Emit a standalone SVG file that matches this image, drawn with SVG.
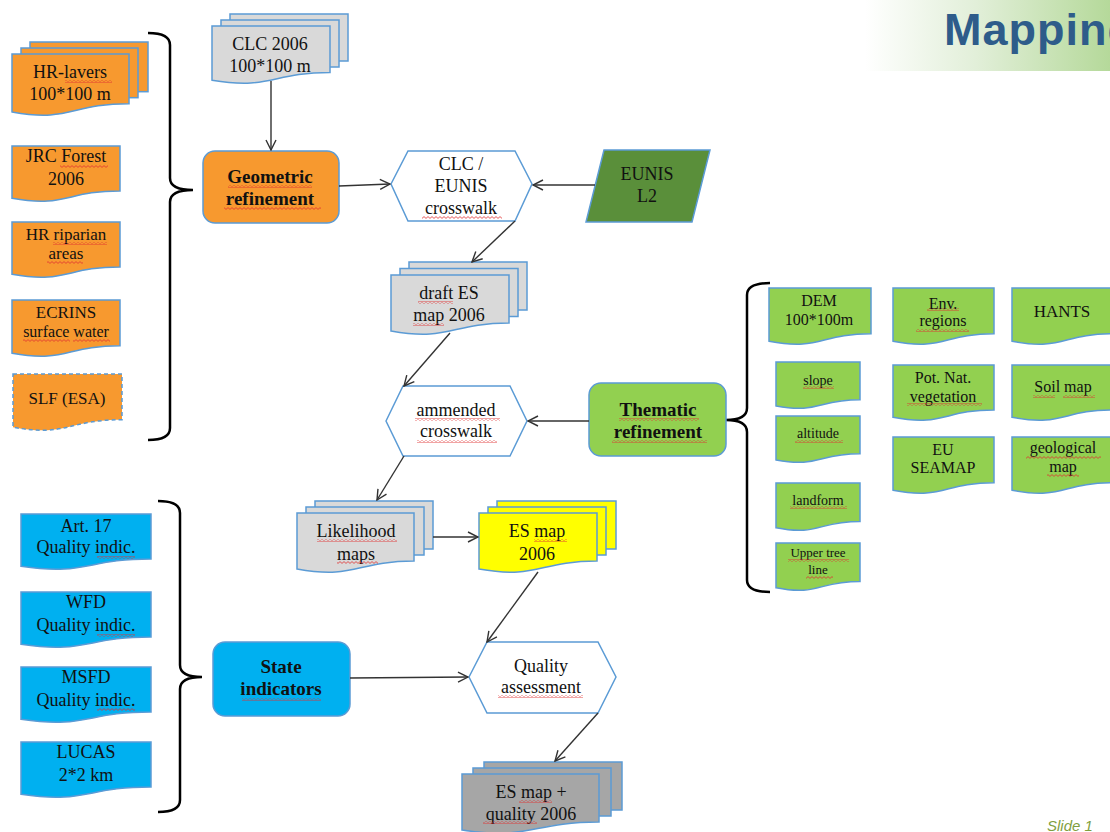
<svg xmlns="http://www.w3.org/2000/svg" width="1110" height="832" viewBox="0 0 1110 832">
<defs>
<linearGradient id="tg" x1="0" y1="0" x2="1" y2="0">
<stop offset="0" stop-color="#ffffff"/>
<stop offset="0.45" stop-color="#E2EFD9"/>
<stop offset="1" stop-color="#B5D99A"/>
</linearGradient>
<pattern id="sq" width="4" height="3" patternUnits="userSpaceOnUse">
<path d="M0,0.6 L2,2.4 L4,0.6" fill="none" stroke="#E03030" stroke-width="0.8"/>
</pattern>
<marker id="ah" viewBox="0 0 12 12" markerWidth="12" markerHeight="12" refX="11" refY="6" orient="auto" markerUnits="userSpaceOnUse">
<path d="M1,1 L11,6 L1,11" fill="none" stroke="#333" stroke-width="1.4"/>
</marker>
</defs>
<style>
.t{font-family:"Liberation Serif","Times New Roman",serif;font-size:18px;text-anchor:middle;fill:#111}
.s17{font-size:17px}
.s16{font-size:16px}
.s14{font-size:14px}
.s13{font-size:13px}
.b{font-weight:bold;font-size:19px}
.d{stroke:#5B9BD5;stroke-width:1.5}
.or{fill:#F7992F}
.gr{fill:#D9D9D9}
.dg{fill:#A6A6A6}
.ye{fill:#FFFF00}
.lg{fill:#92D050}
.bl{fill:#00B0F0}
.hex{fill:#fff;stroke:#5B9BD5;stroke-width:1.5}
.br{fill:none;stroke:#000;stroke-width:2.5}
.c{fill:none;stroke:#333;stroke-width:1.4;marker-end:url(#ah)}
.sq{fill:url(#sq)}
</style>

<g id="title">
<rect x="865" y="0" width="245" height="71" fill="url(#tg)"/>
<text x="944" y="45" font-family="'Liberation Sans',Arial,sans-serif" font-size="45" font-weight="bold" letter-spacing="1" fill="#2E5C8A">Mapping</text>
</g>

<!-- Orange inputs -->
<g id="hr-layers">
<rect class="or d" x="30" y="42" width="118" height="49.7"/>
<rect class="or d" x="21" y="48" width="117" height="49.7"/>
<path class="or d" d="M12,54 H129 V103.7 C70.5,103.7 70.5,122.6 12,111.9 Z"/>
<text class="t" x="70" y="78">HR-lavers</text>
<text class="t" x="70" y="100">100*100 m</text>
<rect class="sq" x="65" y="80" width="47" height="3"/>
</g>
<g id="jrc-forest">
<path class="or d" d="M12,146 H120 V190.9 C66,190.9 66,208 12,198.3 Z"/>
<text class="t" x="66" y="162">JRC Forest</text>
<text class="t" x="66" y="185">2006</text>
<rect class="sq" x="60" y="165" width="48" height="3"/>
</g>
<g id="hr-riparian">
<path class="or d" d="M12,222 H120 V266.9 C66,266.9 66,284 12,274.3 Z"/>
<text class="t s17" x="66" y="240">HR riparian</text>
<text class="t s17" x="66" y="259">areas</text>
<rect class="sq" x="53" y="242" width="54" height="3"/>
<rect class="sq" x="47" y="261" width="36" height="3"/>
</g>
<g id="ecrins">
<path class="or d" d="M12,300 H120 V345.7 C66,345.7 66,363.1 12,353.2 Z"/>
<text class="t s17" x="66" y="318">ECRINS</text>
<text class="t s16" x="66" y="337">surface water</text>
<rect class="sq" x="23" y="339" width="47" height="3"/>
<rect class="sq" x="73" y="339" width="37" height="3"/>
</g>
<g id="slf">
<path class="or d" stroke-dasharray="4,3" d="M13,374 H122 V419.7 C67.5,419.7 67.5,437.1 13,427.2 Z"/>
<text class="t s17" x="67" y="404">SLF (ESA)</text>
</g>
<g id="bracket-left">
<path class="br" d="M148,33 Q170,33 170,45 V178 Q170,190 193,190 Q170,190 170,202 V428 Q170,440 148,440"/>
</g>

<!-- Blue inputs -->
<g id="art17">
<path class="bl d" d="M21,514 H151 V558.9 C86,558.9 86,576 21,566.3 Z"/>
<text class="t" x="86" y="532">Art. 17</text>
<text class="t" x="86" y="553">Quality  indic.</text>
<rect class="sq" x="97" y="556" width="38" height="3"/>
</g>
<g id="wfd">
<path class="bl d" d="M21,592 H151 V636.9 C86,636.9 86,654 21,644.3 Z"/>
<text class="t" x="86" y="608">WFD</text>
<text class="t" x="86" y="631">Quality  indic.</text>
<rect class="sq" x="97" y="634" width="38" height="3"/>
</g>
<g id="msfd">
<path class="bl d" d="M21,667 H151 V711.9 C86,711.9 86,729 21,719.3 Z"/>
<text class="t" x="86" y="683">MSFD</text>
<text class="t" x="86" y="706">Quality  indic.</text>
<rect class="sq" x="97" y="708" width="38" height="3"/>
</g>
<g id="lucas">
<path class="bl d" d="M21,742 H151 V786.9 C86,786.9 86,804 21,794.3 Z"/>
<text class="t" x="86" y="758">LUCAS</text>
<text class="t" x="86" y="781">2*2 km</text>
</g>
<g id="bracket-blue">
<path class="br" d="M158,501 Q180,501 180,513 V665 Q180,677 202,677 Q180,677 180,689 V800 Q180,812 158,812"/>
</g>

<!-- Green inputs -->
<g id="dem">
<path class="lg d" d="M769,288 H871 V333.7 C820,333.7 820,351.1 769,341.2 Z"/>
<text class="t s16" x="819" y="306">DEM</text>
<text class="t s16" x="819" y="325">100*100m</text>
</g>
<g id="env-regions">
<path class="lg d" d="M893,288 H994 V333.7 C943.5,333.7 943.5,351.1 893,341.2 Z"/>
<text class="t s16" x="943" y="309">Env.</text>
<text class="t s16" x="943" y="326">regions</text>
<rect class="sq" x="927" y="308" width="32" height="3"/>
<rect class="sq" x="916" y="329" width="53" height="3"/>
</g>
<g id="hants">
<path class="lg d" d="M1012,288 H1113 V333.7 C1062.5,333.7 1062.5,351.1 1012,341.2 Z"/>
<text class="t s17" x="1062" y="317">HANTS</text>
</g>
<g id="slope">
<path class="lg d" d="M776,362 H860 V399.7 C818,399.7 818,414 776,405.9 Z"/>
<text class="t s14" x="818" y="385">slope</text>
<rect class="sq" x="803" y="386" width="31" height="3"/>
</g>
<g id="altitude">
<path class="lg d" d="M776,416 H860 V453.7 C818,453.7 818,468 776,459.9 Z"/>
<text class="t s14" x="818" y="438">altitude</text>
<rect class="sq" x="795" y="440" width="48" height="3"/>
</g>
<g id="landform">
<path class="lg d" d="M776,483 H860 V521.5 C818,521.5 818,536.1 776,527.8 Z"/>
<text class="t s14" x="818" y="505">landform</text>
<rect class="sq" x="790" y="506" width="57" height="3"/>
</g>
<g id="upper-tree-line">
<path class="lg d" d="M776,543 H860 V581.5 C818,581.5 818,596.1 776,587.8 Z"/>
<text class="t s13" x="818" y="557">Upper tree</text>
<text class="t s13" x="818" y="574">line</text>
<rect class="sq" x="788" y="559" width="61" height="3"/>
<rect class="sq" x="806" y="576" width="27" height="3"/>
</g>
<g id="pot-nat-veg">
<path class="lg d" d="M893,365 H994 V409.9 C943.5,409.9 943.5,427 893,417.3 Z"/>
<text class="t s16" x="943" y="383">Pot. Nat.</text>
<text class="t s16" x="943" y="402">vegetation</text>
<rect class="sq" x="907" y="403" width="75" height="3"/>
</g>
<g id="soil-map">
<path class="lg d" d="M1012,365 H1113 V409.9 C1062.5,409.9 1062.5,427 1012,417.3 Z"/>
<text class="t s16" x="1063" y="392">Soil map</text>
<rect class="sq" x="1033" y="395" width="22" height="3"/>
<rect class="sq" x="1063" y="395" width="32" height="3"/>
</g>
<g id="eu-seamap">
<path class="lg d" d="M893,437 H994 V482.7 C943.5,482.7 943.5,500.1 893,490.2 Z"/>
<text class="t s16" x="943" y="455">EU</text>
<text class="t s16" x="943" y="473">SEAMAP</text>
</g>
<g id="geological-map">
<path class="lg d" d="M1012,437 H1113 V482.7 C1062.5,482.7 1062.5,500.1 1012,490.2 Z"/>
<text class="t s16" x="1063" y="453">geological</text>
<text class="t s16" x="1063" y="472">map</text>
<rect class="sq" x="1026" y="456" width="75" height="3"/>
<rect class="sq" x="1047" y="474" width="32" height="3"/>
</g>
<g id="bracket-green">
<path class="br" d="M770,283 Q747,283 747,295 V408 Q747,420 726,420 Q747,420 747,432 V580 Q747,592 770,592"/>
</g>

<!-- Main flow -->
<g id="clc2006">
<rect class="gr d" x="230" y="14" width="118" height="47"/>
<rect class="gr d" x="221" y="20" width="118" height="47"/>
<path class="gr d" d="M212,26 H330 V72.5 C271,72.5 271,90.2 212,80.2 Z"/>
<text class="t" x="270" y="50">CLC  2006</text>
<text class="t" x="270" y="72">100*100 m</text>
</g>
<g id="geometric">
<rect class="or d" x="203" y="151" width="136" height="72" rx="12"/>
<text class="t b" x="270" y="183">Geometric</text>
<text class="t b" x="270" y="205">refinement</text>
<rect class="sq" x="228" y="185" width="84" height="3"/>
<rect class="sq" x="224" y="207" width="97" height="3"/>
</g>
<g id="clc-eunis">
<polygon class="hex" points="391,184 408,151 515,151 532,184 515,221 408,221"/>
<text class="t" x="461" y="170">CLC  /</text>
<text class="t" x="461" y="192">EUNIS</text>
<text class="t" x="461" y="214">crosswalk</text>
<rect class="sq" x="422" y="216" width="80" height="3"/>
</g>
<g id="eunis-l2">
<polygon fill="#5A8F3A" class="d" points="604,150 710,150 692,222 586,222"/>
<text class="t" x="647" y="180">EUNIS</text>
<text class="t" x="647" y="202">L2</text>
</g>
<g id="draft-es">
<rect class="gr d" x="409" y="262" width="118" height="48"/>
<rect class="gr d" x="400" y="268.5" width="118" height="48"/>
<path class="gr d" d="M391,275 H509 V323.1 C450,323.1 450,341.4 391,331 Z"/>
<text class="t" x="449" y="299">draft ES</text>
<text class="t" x="449" y="321">map 2006</text>
<rect class="sq" x="418" y="301" width="35" height="3"/>
<rect class="sq" x="413" y="323" width="31" height="3"/>
</g>
<g id="ammended">
<polygon class="hex" points="386,421 403,386 510,386 527,421 510,456 403,456"/>
<text class="t" x="456" y="416">ammended</text>
<text class="t" x="456" y="437">crosswalk</text>
<rect class="sq" x="415" y="418" width="85" height="3"/>
<rect class="sq" x="417" y="440" width="80" height="3"/>
</g>
<g id="thematic">
<rect class="lg d" x="589" y="383" width="137" height="73" rx="12"/>
<text class="t b" x="658" y="416">Thematic</text>
<text class="t b" x="658" y="438">refinement</text>
<rect class="sq" x="619" y="418" width="80" height="3"/>
<rect class="sq" x="612" y="440" width="95" height="3"/>
</g>
<g id="likelihood">
<rect class="gr d" x="315" y="501" width="118" height="48"/>
<rect class="gr d" x="306" y="507" width="118" height="48"/>
<path class="gr d" d="M297,513 H414 V561.1 C355.5,561.1 355.5,579.4 297,569 Z"/>
<text class="t" x="356" y="537">Likelihood</text>
<text class="t" x="356" y="560">maps</text>
<rect class="sq" x="317" y="539" width="80" height="3"/>
<rect class="sq" x="337" y="561" width="41" height="3"/>
</g>
<g id="es-map">
<rect class="ye d" x="497" y="501" width="119" height="48"/>
<rect class="ye d" x="488" y="507" width="118" height="48"/>
<path class="ye d" d="M479,513 H597 V561.1 C538,561.1 538,579.4 479,569 Z"/>
<text class="t" x="537" y="537">ES map</text>
<text class="t" x="537" y="560">2006</text>
<rect class="sq" x="534" y="539" width="33" height="3"/>
</g>
<g id="state">
<rect class="bl d" x="213" y="642" width="137" height="74" rx="12"/>
<text class="t b" x="281" y="673">State</text>
<text class="t b" x="281" y="695">indicators</text>
<rect class="sq" x="242" y="698" width="79" height="3"/>
</g>
<g id="quality">
<polygon class="hex" points="469,677 487,642 598,642 616,677 598,713 487,713"/>
<text class="t" x="541" y="672">Quality</text>
<text class="t" x="541" y="693">assessment</text>
<rect class="sq" x="498" y="695" width="85" height="3"/>
</g>
<g id="es-map-quality">
<rect class="dg d" x="484" y="762" width="138" height="48"/>
<rect class="dg d" x="473" y="768" width="138" height="48"/>
<path class="dg d" d="M462,774 H599 V822.1 C530.5,822.1 530.5,840.4 462,830 Z"/>
<text class="t" x="531" y="798">ES map +</text>
<text class="t" x="531" y="820">quality  2006</text>
<rect class="sq" x="519" y="800" width="33" height="3"/>
<rect class="sq" x="483" y="821" width="54" height="3"/>
</g>

<g id="connectors">
<path class="c" d="M271,81 L271,150"/>
<path class="c" d="M339,186 L390,184"/>
<path class="c" d="M595,185 L533,185"/>
<path class="c" d="M515,221 L472,262"/>
<path class="c" d="M450,333 L404,386"/>
<path class="c" d="M589,421 L528,421"/>
<path class="c" d="M404,456 L377,500"/>
<path class="c" d="M433,537 L478,537"/>
<path class="c" d="M538,572 L487,642"/>
<path class="c" d="M350,678 L468,677"/>
<path class="c" d="M598,713 L555,761"/>
</g>

<text x="1047" y="831" font-family="'Liberation Sans',Arial,sans-serif" font-size="15" font-style="italic" fill="#7F9F3F">Slide 1</text>
</svg>
